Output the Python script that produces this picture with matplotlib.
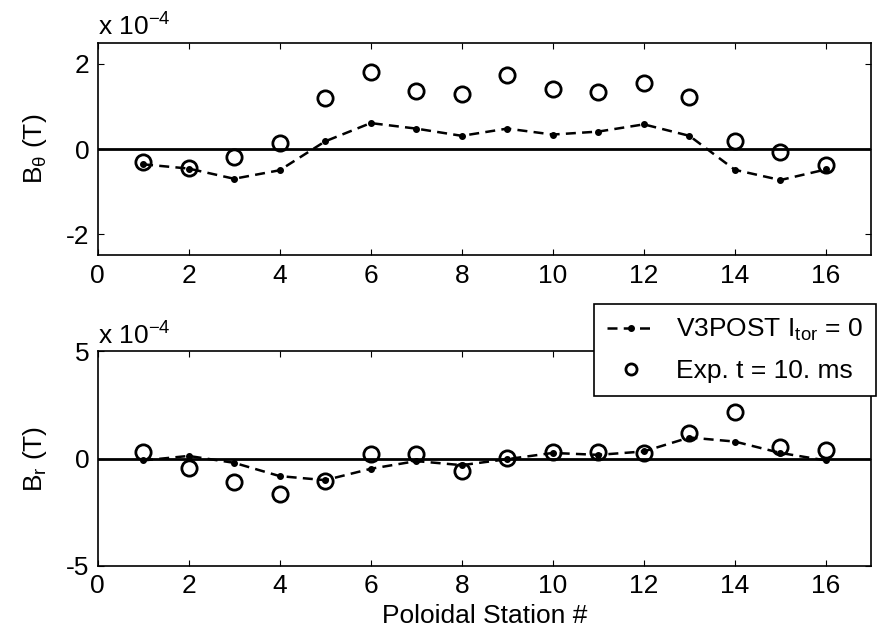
import numpy as np
import matplotlib.pyplot as plt

plt.rcParams['font.family'] = ['Liberation Sans', 'DejaVu Sans']
plt.rcParams['mathtext.fontset'] = 'custom'
plt.rcParams['mathtext.rm'] = 'Liberation Sans'
plt.rcParams['mathtext.it'] = 'Liberation Sans:italic'
plt.rcParams['axes.unicode_minus'] = False

# poloidal stations
station = np.arange(1, 17)

# B_theta, units of 1e-4 T
btheta_model = [-0.36, -0.46, -0.70, -0.50, 0.18, 0.61, 0.48, 0.31,
                0.48, 0.34, 0.41, 0.58, 0.31, -0.49, -0.73, -0.48]
btheta_exp = [-0.31, -0.45, -0.18, 0.15, 1.19, 1.80, 1.36, 1.29,
              1.73, 1.42, 1.33, 1.56, 1.22, 0.19, -0.08, -0.37]

# B_r, units of 1e-4 T
br_model = [-0.09, 0.12, -0.20, -0.82, -1.01, -0.48, -0.12, -0.31,
            -0.03, 0.26, 0.17, 0.33, 0.98, 0.79, 0.26, -0.09]
br_exp = [0.31, -0.44, -1.10, -1.66, -1.06, 0.22, 0.23, -0.59,
          0.03, 0.31, 0.30, 0.25, 1.17, 2.16, 0.56, 0.42]

fs = 19
fig = plt.figure(figsize=(8.81, 6.33), dpi=100)
ax1 = fig.add_axes([0.1107, 0.5967, 0.8785, 0.3358])
ax2 = fig.add_axes([0.1107, 0.1063, 0.8785, 0.3387])


def draw(ax, model, exp, ylim, yticks, ylabel):
    ax.axhline(0, color='black', lw=2, zorder=1)
    ax.plot(station, model, 'k--', lw=1.8, marker='.', ms=8, dashes=(4, 2.5),
            label='V3POST I$_\\mathregular{tor}$ = 0', zorder=3)
    ax.plot(station, exp, 'o', ls='none', mfc='none', mec='black', mew=2,
            ms=11, label='Exp. t = 10. ms', zorder=2)
    ax.set_xlim(0, 17)
    ax.set_ylim(*ylim)
    ax.set_xticks(range(0, 17, 2))
    ax.set_yticks(yticks)
    ax.tick_params(direction='in', top=True, right=True, length=4,
                   labelsize=fs, pad=6)
    ax.set_ylabel(ylabel, fontsize=fs, labelpad=12)
    ax.text(0, 1.01, 'x 10$^\\mathregular{-4}$', transform=ax.transAxes,
            fontsize=fs, va='bottom', ha='left')
    for s in ax.spines.values():
        s.set_linewidth(1.2)


draw(ax1, btheta_model, btheta_exp, (-2.5, 2.5), [-2, 0, 2],
     'B$_\\mathregular{θ}$ (T)')
draw(ax2, br_model, br_exp, (-5, 5), [-5, 0, 5], 'B$_\\mathregular{r}$ (T)')
ax2.set_xlabel('Poloidal Station #', fontsize=fs, labelpad=4)

leg = ax2.legend(loc='upper right', bbox_to_anchor=(0.9943, 0.5197),
                 bbox_transform=fig.transFigure, fontsize=fs,
                 numpoints=1, handlelength=1.8, fancybox=False, framealpha=1,
                 borderpad=0.5, labelspacing=0.6, handletextpad=0.8,
                 borderaxespad=0)
leg.get_frame().set_edgecolor('black')
leg.get_frame().set_linewidth(1.2)
leg.legend_handles[1].set_markersize(8)

fig.savefig('out.png', dpi=100)
